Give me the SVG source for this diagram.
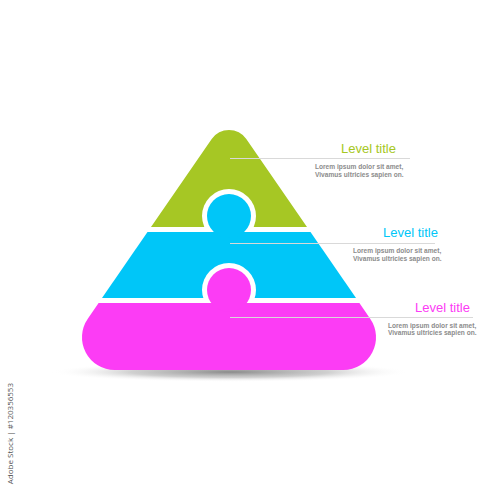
<svg xmlns="http://www.w3.org/2000/svg" width="500" height="500" viewBox="0 0 500 500">
<defs>
<radialGradient id="sh" cx="0.5" cy="0.5" r="0.5">
<stop offset="0" stop-color="#8a8a8a" stop-opacity="1"/>
<stop offset="0.55" stop-color="#b0b0b0" stop-opacity="0.6"/>
<stop offset="1" stop-color="#ffffff" stop-opacity="0"/>
</radialGradient>
<style>
.title{font-family:"Liberation Sans",Arial,sans-serif;font-size:13px}
.body{font-family:"Liberation Sans",Arial,sans-serif;font-size:6.6px;font-weight:bold;fill:#8c8c8c}
.lead{stroke:#d9d9d9;stroke-width:1;fill:none}
.ring{fill:#ffffff}
</style>
</defs>
<rect width="500" height="500" fill="#ffffff"/>
<ellipse cx="230" cy="372" rx="180" ry="10" fill="url(#sh)"/>
<g id="level1">
<path d="M151,227 L307,227 L246.3,139 A21,21 0 0 0 211.7,139 Z" fill="#a6c724"/>
</g>
<g id="level2">
<circle class="ring" cx="229" cy="216" r="27"/>
<path d="M147.5,232 L310.5,232 L356,298 L102,298 Z" fill="#00c6f8"/>
<circle cx="229" cy="216" r="22" fill="#00c6f8"/>
</g>
<g id="level3">
<circle class="ring" cx="229" cy="290" r="27"/>
<path d="M98.6,303 L359.4,303 L370.2,318.7 A32.7,32.7 0 0 1 343.3,370 L114.7,370 A32.7,32.7 0 0 1 87.8,318.7 Z" fill="#fc3cf5"/>
<circle cx="229" cy="290" r="22" fill="#fc3cf5"/>
</g>
<g id="connectors">
<line class="lead" x1="230" y1="158.5" x2="410" y2="158.5"/>
<line class="lead" x1="230" y1="243.5" x2="435" y2="243.5"/>
<line class="lead" x1="230" y1="317.5" x2="473" y2="317.5"/>
</g>
<g id="label1">
<text class="title" x="341" y="153" fill="#a6c724">Level title</text>
<text class="body" x="315" y="169">Lorem ipsum dolor sit amet,</text>
<text class="body" x="315" y="176.5">Vivamus ultricies sapien on.</text>
</g>
<g id="label2">
<text class="title" x="383" y="237" fill="#00c6f8">Level title</text>
<text class="body" x="353" y="253">Lorem ipsum dolor sit amet,</text>
<text class="body" x="353" y="260.5">Vivamus ultricies sapien on.</text>
</g>
<g id="label3">
<text class="title" x="415" y="312" fill="#fc3cf5">Level title</text>
<text class="body" x="388" y="327.5">Lorem ipsum dolor sit amet,</text>
<text class="body" x="388" y="335">Vivamus ultricies sapien on.</text>
</g>
<text x="13" y="383" transform="rotate(-90 13 383)" text-anchor="end" font-family="'Open Sans','Liberation Sans',sans-serif" font-size="8" fill="#555555">Adobe Stock | #120356553</text>
</svg>
